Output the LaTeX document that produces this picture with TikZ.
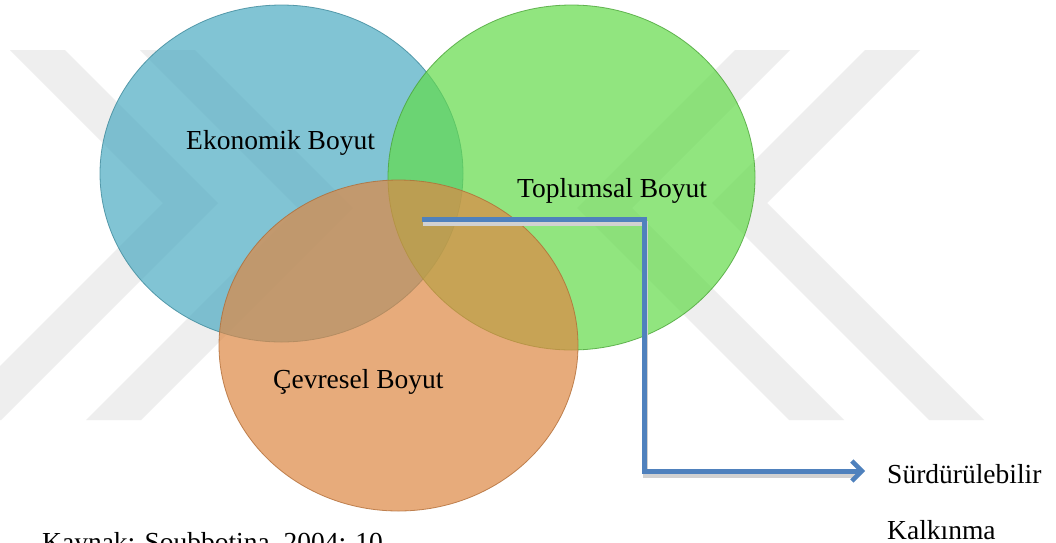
\documentclass[tikz,border=0pt]{standalone}
\usepackage{fontspec}
\setmainfont{Liberation Serif}
\usetikzlibrary{shapes.geometric,arrows.meta}
\definecolor{ekoC}{RGB}{76,171,194}
\definecolor{topC}{RGB}{99,219,74}
\definecolor{cevC}{RGB}{222,136,68}
\definecolor{flowC}{RGB}{79,129,189}
\definecolor{wmC}{RGB}{238,238,238}
\tikzset{
  venn/.style={ellipse, inner sep=0pt, fill opacity=0.7, draw opacity=0.8, line width=0.8pt},
  lbl/.style={font=\fontsize{27.5}{33}\selectfont, inner sep=0pt, anchor=base west, text=black},
  flow/.style={draw=flowC, line width=5pt, -{Straight Barb[length=10pt,width=20pt,line width=4.5pt]}},
  flowshadow/.style={draw=black!18, line width=5pt},
  wm/.style={fill=wmC, draw=none},
}
\begin{document}
\begin{tikzpicture}[x=1pt,y=-1pt]
\useasboundingbox (0,0) rectangle (1056,542);
\fill[white] (0,0) rectangle (1056,542);
% watermark chevrons
\fill[wm] (865,50)--(920,50)--(767,203)--(984,420)--(929,420)--(712,203)--cycle;
\fill[wm] (735,50)--(790,50)--(632,208)--(844,420)--(789,420)--(577,208)--cycle;
\fill[wm] (65,50)--(10,50)--(163,203)--(-54,420)--(1,420)--(218,203)--cycle;
\fill[wm] (195,50)--(140,50)--(298,208)--(86,420)--(141,420)--(353,208)--cycle;
% Venn ellipses
\node[venn, fill=ekoC, draw=ekoC!80!black, minimum width=363pt, minimum height=337pt] (eko) at (281.5,173.5) {};
\node[venn, fill=topC, draw=topC!75!black, minimum width=367pt, minimum height=345pt] (top) at (571.5,177.5) {};
\node[venn, fill=cevC, draw=cevC!80!black, minimum width=359pt, minimum height=331pt] (cev) at (398.5,345.5) {};
% labels
\node[lbl] (ekoL) at (186,149) {Ekonomik Boyut};
\node[lbl] (topL) at (517,197) {Toplumsal Boyut};
\node[lbl] (cevL) at (273,388) {Çevresel Boyut};
\node[lbl] (sur) at (887,483) {Sürdürülebilir};
\node[lbl] (kal) at (887,539) {Kalkınma};
\node[lbl] (kay) at (42,551) {Kaynak: Soubbotina, 2004: 10};
% connector
\coordinate (start) at (422,219.5);
\coordinate (bend) at (644.5,471);
\coordinate (tip) at (865,471);
\draw[flowshadow] ([shift={(1,4)}]start) -| ([shift={(1,4)}]bend) -- ([shift={(-8,4)}]tip);
\draw[flow] (start) -| (bend) -- (tip);
\end{tikzpicture}
\end{document}
